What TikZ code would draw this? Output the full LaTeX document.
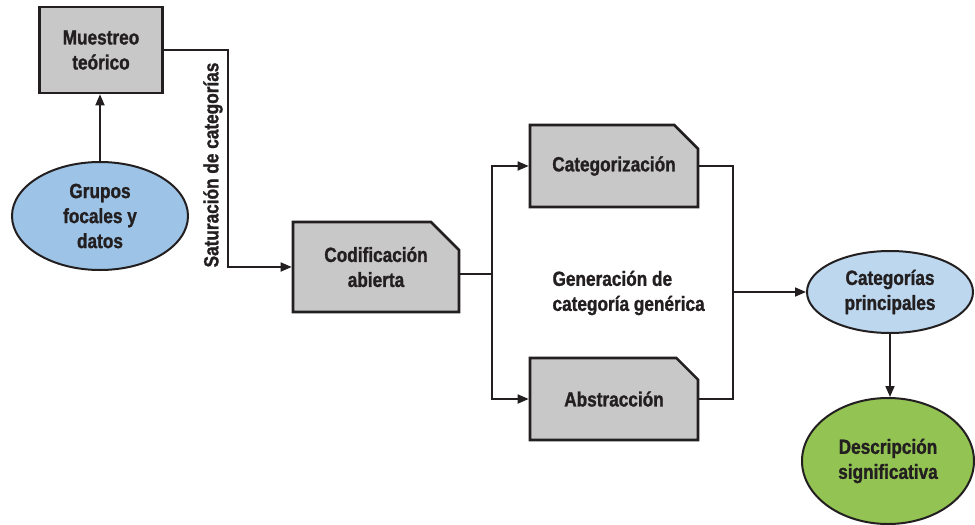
\documentclass[tikz,border=0pt]{standalone}
\usepackage{fontspec}
\setmainfont{Liberation Sans}[FakeStretch=0.84,FakeBold=1.2]
\usetikzlibrary{shapes.geometric,shapes.misc,arrows.meta}
\definecolor{boxgray}{HTML}{C8C8C8}
\definecolor{lblue}{HTML}{9DC3E6}
\definecolor{pblue}{HTML}{BDD7EE}
\definecolor{lgreen}{HTML}{92C353}
\definecolor{ink}{HTML}{231F20}
\begin{document}
\begin{tikzpicture}[x=1pt,y=-1pt,
  font=\fontsize{20.5}{25}\selectfont\bfseries,
  every node/.style={text=ink,align=center},
  sqbox/.style={rectangle,draw=ink,fill=boxgray,line width=2.6pt,inner sep=0pt},
  chbox/.style={chamfered rectangle,chamfered rectangle corners=north east,
     chamfered rectangle xsep=14pt,chamfered rectangle ysep=14pt,
     draw=ink,fill=boxgray,line width=2.6pt,inner sep=0pt},
  ell/.style={ellipse,draw=ink,line width=2pt,inner sep=0pt},
  conn/.style={draw=ink,line width=1.7pt},
  arr/.style={conn,-{Triangle[length=11pt,width=9pt]}}]
\useasboundingbox (0,0) rectangle (975,525);
\node[sqbox,minimum width=123pt,minimum height=86pt] (mt) at (101,50) {Muestreo\\teórico};
\node[ell,fill=lblue,minimum width=176pt,minimum height=108pt] (gr) at (100,216) {Grupos\\focales y\\datos};
\node[chbox,minimum width=166pt,minimum height=90pt] (cod) at (376,267) {Codificación\\abierta};
\node[chbox,minimum width=168pt,minimum height=82pt] (cat) at (614,166) {Categorización};
\node[chbox,minimum width=168pt,minimum height=82pt] (abs) at (614,399) {Abstracción};
\node[ell,fill=pblue,minimum width=166pt,minimum height=82pt] (cp) at (890,292) {Categorías\\principales};
\node[ell,fill=lgreen,minimum width=172pt,minimum height=126pt] (ds) at (888,461) {Descripción\\significativa};
\node[rotate=90] (sat) at (213,165) {Saturación de categorías};
\node[anchor=west,align=left] (gen) at (549,293) {Generación de\\categoría genérica};
\coordinate (j1) at (228,267);
\coordinate (j2) at (492,274);
\coordinate (j3) at (733,292);
\draw[arr] (gr.north) -- (gr.north |- mt.south);
\draw[arr] (mt.east) -| (j1) -- (cod.west);
\draw[conn] (cod.east |- j2) -- (j2);
\draw[arr] (j2) |- (cat.west);
\draw[arr] (j2) |- (abs.west);
\draw[conn] (cat.east) -| (j3);
\draw[conn] (abs.east) -| (j3);
\draw[arr] (j3) -- (cp.west);
\draw[arr] (cp.south) -- (cp.south |- ds.north);
\end{tikzpicture}
\end{document}
